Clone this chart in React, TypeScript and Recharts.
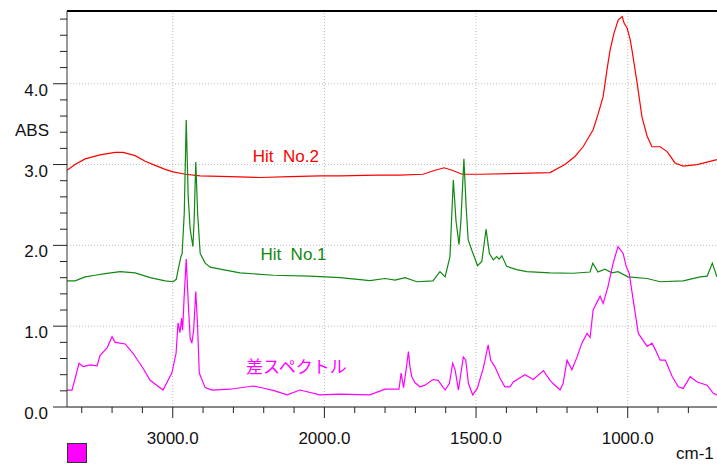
import React from 'react';
import { LineChart, Line, XAxis, YAxis, ReferenceLine, ReferenceDot } from 'recharts';

// [wavenumber cm-1, absorbance]
const hitNo2: number[][] = [
  [3697, 2.93], [3644, 3.0], [3578, 3.07], [3479, 3.12], [3380, 3.15], [3327, 3.15],
  [3248, 3.11], [3182, 3.04], [3116, 2.99], [3050, 2.94], [2997, 2.91], [2918, 2.88],
  [2819, 2.86], [2622, 2.85], [2424, 2.84], [2226, 2.85], [2029, 2.86], [1948, 2.86],
  [1826, 2.87], [1751, 2.87], [1675, 2.88], [1635, 2.93], [1605, 2.96], [1579, 2.93],
  [1546, 2.88], [1487, 2.88], [1355, 2.89], [1256, 2.9], [1207, 3.0], [1174, 3.1],
  [1147, 3.22], [1114, 3.43], [1098, 3.62], [1081, 3.84], [1068, 4.18], [1058, 4.42],
  [1045, 4.63], [1031, 4.79], [1018, 4.83], [1012, 4.75], [1002, 4.69], [992, 4.55],
  [986, 4.42], [969, 4.01], [953, 3.59], [936, 3.35], [920, 3.22], [893, 3.22],
  [870, 3.16], [844, 3.02], [817, 2.98], [771, 3.0], [706, 3.06],
];

const hitNo1: number[][] = [
  [3697, 1.56], [3644, 1.56], [3578, 1.61], [3512, 1.63], [3446, 1.65], [3347, 1.675],
  [3248, 1.66], [3149, 1.6], [3050, 1.56], [2997, 1.55], [2977, 1.58], [2964, 1.7],
  [2946, 1.86], [2938, 1.9], [2924, 2.4], [2911, 3.55], [2898, 2.6], [2885, 2.2],
  [2867, 1.985], [2859, 2.3], [2848, 3.03], [2836, 2.4], [2819, 1.9], [2786, 1.78],
  [2753, 1.73], [2687, 1.705], [2556, 1.66], [2338, 1.63], [2095, 1.62], [1948, 1.6],
  [1850, 1.565], [1800, 1.59], [1767, 1.57], [1734, 1.6], [1695, 1.55], [1642, 1.56],
  [1619, 1.675], [1602, 1.61], [1586, 1.86], [1575, 2.81], [1566, 2.3], [1556, 2.01],
  [1550, 2.3], [1540, 3.07], [1533, 2.5], [1526, 2.07], [1514, 1.94], [1495, 1.75],
  [1481, 1.8], [1467, 2.2], [1456, 1.9], [1443, 1.82], [1432, 1.86], [1424, 1.83],
  [1415, 1.87], [1399, 1.74], [1366, 1.7], [1333, 1.675], [1256, 1.66], [1180, 1.655],
  [1124, 1.67], [1115, 1.78], [1098, 1.67], [1075, 1.705], [1052, 1.66], [1032, 1.675],
  [999, 1.61], [936, 1.59], [893, 1.55], [817, 1.56], [761, 1.61], [738, 1.62],
  [721, 1.78], [706, 1.61],
];

const diffSpectrum: number[][] = [
  [3697, 0.21], [3664, 0.21], [3618, 0.54], [3591, 0.5], [3545, 0.52], [3499, 0.51],
  [3479, 0.64], [3433, 0.73], [3400, 0.87], [3380, 0.8], [3314, 0.78], [3262, 0.665],
  [3196, 0.48], [3149, 0.33], [3064, 0.21], [3006, 0.42], [2978, 0.665], [2965, 1.04],
  [2952, 0.92], [2942, 1.1], [2935, 0.95], [2925, 1.35], [2911, 1.83], [2898, 1.3],
  [2885, 0.85], [2874, 0.79], [2862, 0.95], [2848, 1.43], [2836, 1.0], [2825, 0.42],
  [2786, 0.24], [2740, 0.21], [2622, 0.22], [2471, 0.26], [2405, 0.235], [2326, 0.2],
  [2246, 0.15], [2161, 0.21], [2029, 0.15], [1948, 0.16], [1850, 0.15], [1800, 0.22],
  [1754, 0.22], [1747, 0.42], [1739, 0.24], [1731, 0.45], [1723, 0.685], [1718, 0.5],
  [1712, 0.375], [1701, 0.3], [1685, 0.25], [1668, 0.27], [1642, 0.34], [1625, 0.33],
  [1602, 0.21], [1588, 0.29], [1577, 0.54], [1569, 0.46], [1558, 0.21], [1542, 0.62],
  [1534, 0.58], [1525, 0.29], [1511, 0.15], [1496, 0.23], [1476, 0.48], [1460, 0.77],
  [1452, 0.58], [1438, 0.5], [1421, 0.355], [1405, 0.25], [1388, 0.25], [1377, 0.31],
  [1339, 0.4], [1311, 0.34], [1278, 0.45], [1256, 0.33], [1246, 0.29], [1223, 0.21],
  [1213, 0.29], [1200, 0.58], [1184, 0.46], [1167, 0.62], [1151, 0.79], [1134, 0.91],
  [1124, 0.86], [1114, 1.2], [1091, 1.37], [1081, 1.28], [1065, 1.49], [1048, 1.78],
  [1032, 1.985], [1015, 1.9], [1005, 1.74], [995, 1.655], [982, 1.325], [965, 0.91],
  [936, 0.75], [920, 0.79], [909, 0.71], [893, 0.58], [876, 0.58], [853, 0.375],
  [833, 0.25], [817, 0.23], [794, 0.375], [771, 0.31], [738, 0.27], [718, 0.17],
  [706, 0.15],
];

const xTickWavenumbers = [
  800, 900, 1000, 1100, 1200, 1300, 1400, 1500, 1600, 1700, 1800, 1900, 2000,
  2200, 2400, 2600, 2800, 3000, 3200, 3400, 3600,
];
const xLabelWavenumbers = [1000, 1500, 2000, 3000];
const yTicks = [0, 0.2, 0.4, 0.6, 0.8, 1, 1.2, 1.4, 1.6, 1.8, 2, 2.2, 2.4, 2.6, 2.8, 3, 3.2, 3.4, 3.6, 3.8, 4, 4.2, 4.4, 4.6, 4.8];
const yGrid = [1, 2, 3, 4];

const FONT = '"Liberation Sans", Arial, sans-serif';
const JP_FONT = '"Noto Sans CJK JP", sans-serif';

// spectrometer display: region above 2000 cm-1 is compressed 2x
const toAxis = (w: number) => (w > 2000 ? 2000 + (w - 2000) / 2 : w);
const fromAxis = (t: number) => (t > 2000 ? 2000 + (t - 2000) * 2 : t);
const toRows = (pts: number[][]) => pts.map(([w, v]) => ({ t: toAxis(w), v }));

const XTick = ({ x, y, payload }: any) => {
  const w = Math.round(fromAxis(payload.value));
  const major = xLabelWavenumbers.includes(w);
  return (
    <g>
      <line x1={x} x2={x} y1={y} y2={y + (major ? 11 : 6)} stroke="#222" />
      {major && (
        <text x={x} y={y + 37} textAnchor="middle" fontSize={17} fontFamily={FONT} fill="#111">
          {w.toFixed(1)}
        </text>
      )}
    </g>
  );
};

const YTick = ({ x, y, payload }: any) => {
  const v = payload.value;
  const major = Math.abs(v - Math.round(v)) < 1e-6;
  return (
    <g>
      <line x1={x - (major ? 14 : 7)} x2={x} y1={y} y2={y} stroke="#222" />
      {major && (
        <text x={x - 19} y={y + 12} textAnchor="end" fontSize={17} fontFamily={FONT} fill="#111">
          {v.toFixed(1)}
        </text>
      )}
      {v === 3.4 && (
        <text x={x - 18} y={y + 4} textAnchor="end" fontSize={17} fontFamily={FONT} fill="#111">
          ABS
        </text>
      )}
    </g>
  );
};

const SeriesLabel = ({ viewBox, text, color, font }: any) => (
  <text x={viewBox.x} y={viewBox.y} fill={color} fontSize={17} fontFamily={font} style={{ whiteSpace: 'pre' }}>
    {text}
  </text>
);

export default function App() {
  return (
    <div style={{ position: 'relative', width: 717, height: 464, overflow: 'hidden', background: '#fff' }}>
      <style>{'body{margin:0}'}</style>
      <LineChart width={717} height={464} margin={{ top: 11, right: 0, bottom: 0, left: 0 }}>
        <XAxis
          dataKey="t"
          type="number"
          domain={[705.6, 2848.6]}
          reversed
          allowDataOverflow
          ticks={xTickWavenumbers.map(toAxis)}
          interval={0}
          height={57}
          tickSize={0}
          tickMargin={0}
          tick={<XTick />}
          axisLine={{ stroke: '#111' }}
        />
        <YAxis
          type="number"
          domain={[0, 4.9]}
          allowDataOverflow
          ticks={yTicks}
          interval={0}
          width={67}
          tickSize={0}
          tickMargin={0}
          tick={<YTick />}
          axisLine={{ stroke: '#333' }}
        />
        {xLabelWavenumbers.map((w) => (
          <ReferenceLine key={'gx' + w} x={toAxis(w)} stroke="#bdbdbd" strokeDasharray="1 2" />
        ))}
        {yGrid.map((v) => (
          <ReferenceLine key={'gy' + v} y={v} stroke="#bdbdbd" strokeDasharray="1 2" />
        ))}
        <ReferenceLine y={4.9} stroke="#000" strokeWidth={2} />
        <Line data={toRows(hitNo2)} dataKey="v" type="linear" stroke="#ff0000" strokeWidth={1.2} dot={false} isAnimationActive={false} />
        <Line data={toRows(hitNo1)} dataKey="v" type="linear" stroke="#118811" strokeWidth={1.2} dot={false} isAnimationActive={false} />
        <Line data={toRows(diffSpectrum)} dataKey="v" type="linear" stroke="#ff00ff" strokeWidth={1.2} dot={false} isAnimationActive={false} />
        <ReferenceDot x={toAxis(2472)} y={3.035} r={0} stroke="none" fill="none"
          label={<SeriesLabel text="Hit  No.2" color="#ff0000" font={FONT} />} />
        <ReferenceDot x={toAxis(2422)} y={1.82} r={0} stroke="none" fill="none"
          label={<SeriesLabel text="Hit  No.1" color="#118811" font={FONT} />} />
        <ReferenceDot x={toAxis(2517)} y={0.42} r={0} stroke="none" fill="none"
          label={<SeriesLabel text="差スペクトル" color="#ff00ff" font={JP_FONT} />} />
      </LineChart>
      <div style={{ position: 'absolute', left: 676, top: 444, fontSize: 17, lineHeight: 'normal', fontFamily: FONT, color: '#111', whiteSpace: 'nowrap' }}>
        cm-1
      </div>
      <div style={{ position: 'absolute', left: 67, top: 443, width: 20, height: 20, boxSizing: 'border-box', background: '#ff00ff', border: '1px solid #333' }} />
    </div>
  );
}
